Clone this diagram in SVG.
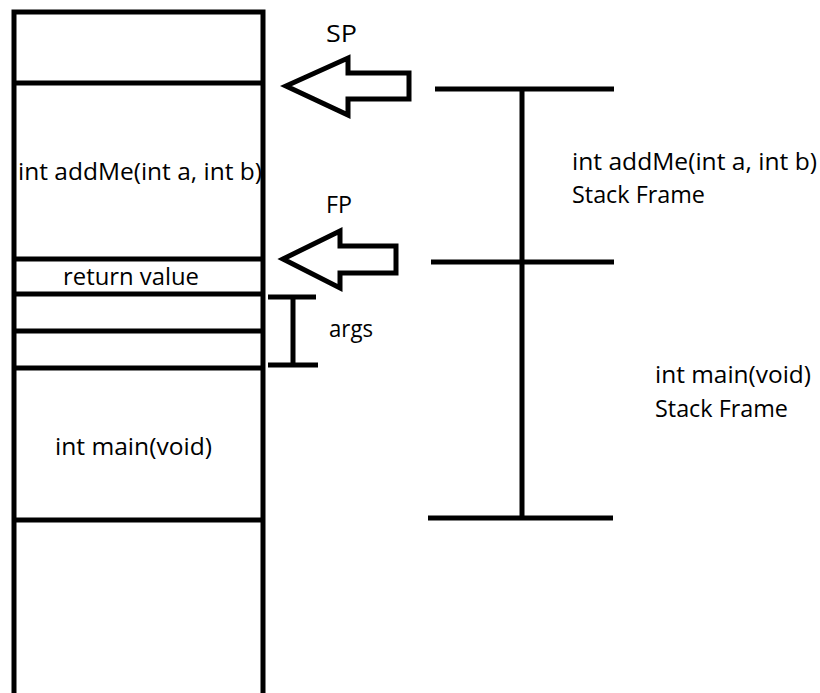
<svg xmlns="http://www.w3.org/2000/svg" width="820" height="693" viewBox="0 0 820 693">
<style>
.ln{stroke:#000;stroke-width:5;fill:none;stroke-linecap:butt}
.ar{stroke:#000;stroke-width:5;fill:#fff;stroke-linejoin:miter}
text{font-family:"Open Sans",Lato,"Liberation Sans",sans-serif;font-size:23px;fill:#000}
</style>
<rect width="820" height="693" fill="#fff"/>
<g id="stack">
<path class="ln" d="M14,700 V12 H263 V700"/>
<line class="ln" x1="14" y1="83" x2="263" y2="83"/>
<line class="ln" x1="14" y1="259" x2="263" y2="259"/>
<line class="ln" x1="14" y1="294" x2="263" y2="294"/>
<line class="ln" x1="14" y1="331" x2="263" y2="331"/>
<line class="ln" x1="14" y1="368" x2="263" y2="368"/>
<line class="ln" x1="14" y1="520" x2="263" y2="520"/>
<text x="18" y="180" textLength="244" lengthAdjust="spacingAndGlyphs">int addMe(int a, int b)</text>
<text x="63" y="285" textLength="136" lengthAdjust="spacingAndGlyphs">return value</text>
<text x="55" y="455" textLength="157" lengthAdjust="spacingAndGlyphs">int main(void)</text>
</g>
<g id="sp">
<polygon class="ar" points="286,86 348,58 348,73 409,73 409,99 348,99 348,115"/>
<text x="326" y="42" textLength="31" lengthAdjust="spacingAndGlyphs">SP</text>
</g>
<g id="fp">
<polygon class="ar" points="283,259 340,231 340,246 396,246 396,273 340,273 340,288"/>
<text x="326" y="213" textLength="26" lengthAdjust="spacingAndGlyphs">FP</text>
</g>
<g id="args">
<line class="ln" x1="268" y1="297" x2="316" y2="297"/>
<line class="ln" x1="268" y1="365" x2="318" y2="365"/>
<line class="ln" x1="293" y1="297" x2="293" y2="365"/>
<text x="329" y="337" textLength="44" lengthAdjust="spacingAndGlyphs">args</text>
</g>
<g id="frames">
<line class="ln" x1="435" y1="89" x2="614" y2="89"/>
<line class="ln" x1="431" y1="262" x2="614" y2="262"/>
<line class="ln" x1="428" y1="518" x2="613" y2="518"/>
<line class="ln" x1="522" y1="89" x2="522" y2="518"/>
<text x="572" y="170" textLength="245" lengthAdjust="spacingAndGlyphs">int addMe(int a, int b)</text>
<text x="572" y="203" textLength="133" lengthAdjust="spacingAndGlyphs">Stack Frame</text>
<text x="655" y="383" textLength="156" lengthAdjust="spacingAndGlyphs">int main(void)</text>
<text x="655" y="417" textLength="133" lengthAdjust="spacingAndGlyphs">Stack Frame</text>
</g>
</svg>
